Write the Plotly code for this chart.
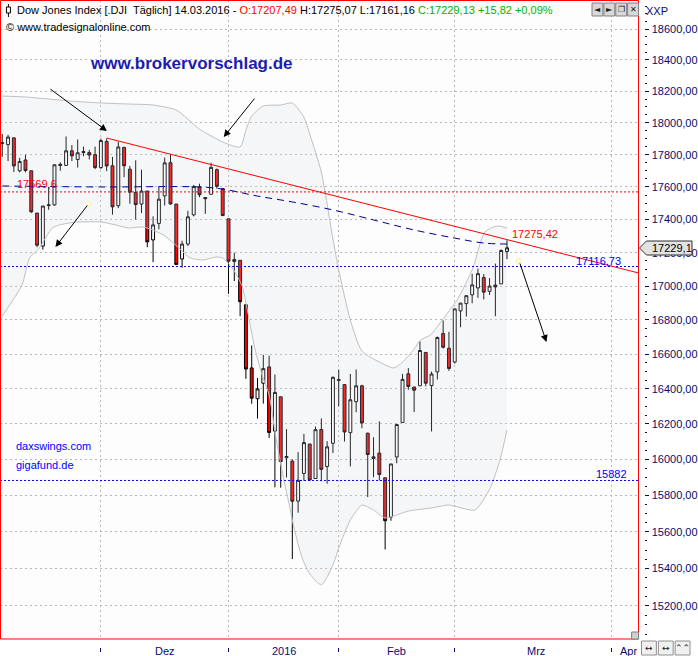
import math
import plotly.graph_objects as go

# ---------------- data ----------------
dates = ["2015-11-05", "2015-11-06", "2015-11-09", "2015-11-10", "2015-11-11", "2015-11-12", "2015-11-13",
         "2015-11-16", "2015-11-17", "2015-11-18", "2015-11-19", "2015-11-20", "2015-11-23", "2015-11-24",
         "2015-11-25", "2015-11-27", "2015-11-30",
         "2015-12-01", "2015-12-02", "2015-12-03", "2015-12-04", "2015-12-07", "2015-12-08", "2015-12-09",
         "2015-12-10", "2015-12-11", "2015-12-14", "2015-12-15", "2015-12-16", "2015-12-17", "2015-12-18",
         "2015-12-21", "2015-12-22", "2015-12-23", "2015-12-24", "2015-12-28", "2015-12-29", "2015-12-30",
         "2015-12-31",
         "2016-01-04", "2016-01-05", "2016-01-06", "2016-01-07", "2016-01-08", "2016-01-11", "2016-01-12",
         "2016-01-13", "2016-01-14", "2016-01-15", "2016-01-19", "2016-01-20", "2016-01-21", "2016-01-22",
         "2016-01-25", "2016-01-26", "2016-01-27", "2016-01-28", "2016-01-29",
         "2016-02-01", "2016-02-02", "2016-02-03", "2016-02-04", "2016-02-05", "2016-02-08", "2016-02-09",
         "2016-02-10", "2016-02-11", "2016-02-12", "2016-02-16", "2016-02-17", "2016-02-18", "2016-02-19",
         "2016-02-22", "2016-02-23", "2016-02-24", "2016-02-25", "2016-02-26", "2016-02-29",
         "2016-03-01", "2016-03-02", "2016-03-03", "2016-03-04", "2016-03-07", "2016-03-08", "2016-03-09",
         "2016-03-10", "2016-03-11", "2016-03-14"]

opens = [17869, 17863, 17905, 17700, 17767, 17700, 17440, 17240, 17486, 17490, 17740, 17733, 17824, 17770,
         17820, 17813, 17800,
         17720, 17883, 17731, 17485, 17845, 17710, 17566, 17495, 17575, 17277, 17377, 17545, 17750, 17495,
         17162, 17252, 17429, 17600, 17535, 17555, 17707, 17590,
         17405, 17147, 17154, 16889, 16520, 16343, 16432, 16526, 16159, 16354, 16009, 15990, 15768, 15921,
         16086, 15893, 16168, 15960, 16090,
         16453, 16424, 16150, 16326, 16417, 16147, 16005, 16035, 15897, 15680, 16013, 16208, 16486, 16410,
         16417, 16610, 16418, 16497, 16720, 16634,
         16554, 16853, 16896, 16948, 16989, 17051, 16969, 17006, 17013, 17207.49]
highs = [17929, 17924, 17905, 17780, 17800, 17700, 17440, 17484, 17600, 17740, 17752, 17914, 17860, 17895,
         17850, 17830, 17850,
         17901, 17901, 17786, 17880, 17850, 17730, 17765, 17707, 17575, 17420, 17600, 17782, 17800, 17495,
         17272, 17454, 17613, 17620, 17536, 17750, 17714, 17590,
         17405, 17200, 17154, 16889, 16651, 16462, 16596, 16591, 16482, 16354, 16170, 16000, 16040, 16143,
         16086, 16185, 16231, 16102, 16470,
         16510, 16424, 16485, 16511, 16423, 16150, 16124, 16214, 15897, 15974, 16200, 16485, 16519, 16410,
         16674, 16611, 16499, 16702, 16797, 16730,
         16866, 16900, 16944, 17073, 17104, 17072, 17048, 17134, 17220, 17275.07]
lows = [17787, 17760, 17692, 17690, 17690, 17440, 17233, 17218, 17460, 17485, 17700, 17733, 17760, 17720,
        17790, 17770, 17710,
        17710, 17698, 17430, 17470, 17660, 17497, 17400, 17440, 17233, 17143, 17341, 17486, 17490, 17128,
        17110, 17240, 17420, 17537, 17435, 17555, 17588, 17421,
        16954, 17030, 16822, 16457, 16314, 16230, 16315, 16120, 15844, 15842, 15899, 15451, 15704, 15880,
        15880, 15893, 15878, 15864, 16035,
        16300, 16100, 15960, 16266, 16175, 15790, 15900, 15882, 15503, 15660, 15978, 16208, 16394, 16267,
        16417, 16414, 16157, 16453, 16632, 16503,
        16545, 16757, 16820, 16898, 16930, 16921, 16947, 16822, 17013, 17161.16]
closes = [17874, 17910, 17730, 17758, 17702, 17448, 17245, 17483, 17490, 17737, 17733, 17824, 17793, 17812,
          17813, 17798, 17720,
          17888, 17730, 17478, 17848, 17731, 17568, 17492, 17575, 17265, 17368, 17525, 17749, 17496, 17129,
          17252, 17417, 17603, 17552, 17528, 17721, 17604, 17425,
          17149, 17159, 16907, 16514, 16346, 16399, 16516, 16151, 16379, 15988, 16016, 15767, 15883, 16094,
          15885, 16167, 15944, 16070, 16466,
          16449, 16154, 16337, 16417, 16205, 16027, 16014, 15915, 15660, 15974, 16196, 16454, 16413, 16392,
          16621, 16432, 16485, 16697, 16640, 16517,
          16865, 16899, 16943, 17007, 17074, 16964, 17000, 16995, 17213, 17229.13]

# Bollinger bands (knots, bar index / price)
upper_x = [0, 4, 8, 12, 17, 22, 26, 30, 34, 38, 41, 42, 43, 45, 48, 50, 52, 53, 55, 57, 58, 60, 62,
           65.3, 67.5, 69, 70.9, 72.1, 73.8, 75.2, 76.9, 78.4, 80.2, 81.2, 82.4, 83.2, 84.6, 85.8, 87]
upper_v = [18169, 18163, 18150, 18137, 18125, 18118, 18112, 18080, 17960, 17879, 17848, 17954, 18042,
           18106, 18112, 18125, 18036, 17929, 17692, 17282, 17096, 16799, 16618,
           16549, 16520, 16554, 16624, 16682, 16711, 16770, 16847, 16917, 17036, 17114, 17258, 17325,
           17355, 17361, 17349]
lower_x = [0, 3.4, 4.7, 6.4, 8.6, 9.8, 12.7, 17.2, 19.6, 21.8, 24.3, 27.8, 29.5, 30.8, 32.4, 34.6,
           36.8, 38, 39.2, 40.2, 41.4, 42.6, 43.6, 44.8, 46, 47.1, 48.2, 49.4, 50.3, 51.7, 53, 55, 57,
           58, 60, 62, 64, 66, 70, 74, 77, 81.5, 84.1, 85.8, 87]
lower_v = [16823, 17006, 17168, 17228, 17349, 17367, 17385, 17385, 17367, 17349, 17355, 17307, 17258,
           17216, 17168, 17156, 17174, 17168, 17126, 17078, 16994, 16794, 16624, 16479, 16364, 16137,
           15940, 15757, 15620, 15457, 15371, 15312, 15419, 15511, 15664, 15746, 15719, 15675, 15713,
           15730, 15746, 15719, 15840, 15996, 16165]

# long moving average (dashed)
ma_x = [0, 17, 34, 38, 44, 50, 57, 64, 71, 78, 83, 87]
ma_v = [17606, 17600, 17600, 17587, 17544, 17508, 17459, 17398, 17337, 17288, 17258, 17252]

# trend line and horizontal levels
trend_x = [18, 109.7]
trend_v = [17904, 17078]
levels = [17569.6, 17116.73, 15882]
level_colors = ["#ff0000", "#0000ff", "#0000ff"]

# axis ticks
y_ticks = list(range(15200, 18601, 200))
y_tick_text = [f"{v:.2f}".replace(".", ",") for v in y_ticks]
y_minor = [v for v in range(15050, 18800, 50) if v % 200 != 0]
month_starts = [17, 39, 58, 78, 105]
month_labels = ["Dez", "2016", "Feb", "Mrz", "Apr"]
month_label_pos = [28, 48.5, 68, 92, 108]

# ---------------- layout helpers ----------------
W, H = 698, 656
PLOT_R, PLOT_B = 645, 639
X_RANGE = [-0.39, 109.68]
NAVY = "#0a0a6a"
FONT = "Liberation Sans"
GRID = "#b8b8b8"


def px(x):
    return x / W


def py(y):
    return 1 - y / H


xi = list(range(len(dates)))

fig = go.Figure()

fig.add_trace(go.Scatter(x=upper_x, y=upper_v, mode="lines",
                         line=dict(color="#c0c0c0", width=1, shape="spline", smoothing=0.6),
                         hoverinfo="skip"))
fig.add_trace(go.Scatter(x=lower_x, y=lower_v, mode="lines", fill="tonexty",
                         fillcolor="rgba(215,215,235,0.18)",
                         line=dict(color="#c0c0c0", width=1, shape="spline", smoothing=0.6),
                         hoverinfo="skip"))
for lv, col in zip(levels, level_colors):
    fig.add_trace(go.Scatter(x=X_RANGE, y=[lv, lv], mode="lines",
                             line=dict(color=col, width=1, dash="2px,2px"), hoverinfo="skip"))
fig.add_trace(go.Scatter(x=ma_x, y=ma_v, mode="lines",
                         line=dict(color="#00008c", width=1, dash="7px,5px", shape="spline"),
                         hoverinfo="skip"))
fig.add_trace(go.Candlestick(
    x=xi, open=opens, high=highs, low=lows, close=closes, text=dates,
    increasing=dict(line=dict(color="black", width=1), fillcolor="white"),
    decreasing=dict(line=dict(color="black", width=1), fillcolor="#ff0000"),
    whiskerwidth=0))
fig.add_trace(go.Scatter(x=trend_x, y=trend_v, mode="lines",
                         line=dict(color="#ff0000", width=1), hoverinfo="skip"))

shapes = []
# plot frame
shapes.append(dict(type="rect", xref="paper", yref="paper", x0=px(0.5), x1=px(PLOT_R),
                   y0=py(PLOT_B), y1=py(0.5), line=dict(color="#ff0000", width=1), layer="above"))

# header candle icon
shapes.append(dict(type="line", xref="paper", yref="paper", x0=px(8.5), x1=px(8.5), y0=py(4), y1=py(17),
                   line=dict(color="black", width=1), layer="above"))
shapes.append(dict(type="rect", xref="paper", yref="paper", x0=px(6.5), x1=px(10.5), y0=py(13), y1=py(7),
                   line=dict(color="black", width=1), fillcolor="white", layer="above"))

# top right buttons
btn_glyph = ["◄", "►", "❐", "✕"]
btn_x = [598, 610, 622, 634]
for bx in btn_x:
    shapes.append(dict(type="rect", xref="paper", yref="paper", x0=px(bx), x1=px(bx + 11),
                       y0=py(16), y1=py(3), line=dict(color="#808080", width=1),
                       fillcolor="#d8d8d8", layer="above"))
# bottom right buttons
bb_x = [648, 665, 682]
bb_glyph = ["↔", "↔", "⌃⌃"]
for bx in bb_x:
    shapes.append(dict(type="rect", xref="paper", yref="paper", x0=px(bx), x1=px(bx + 15),
                       y0=py(655), y1=py(641), line=dict(color="#909090", width=1),
                       fillcolor="#f0f0f0", layer="above"))
# resize handle
shapes.append(dict(type="rect", xref="paper", yref="paper", x0=px(638), x1=px(645),
                   y0=py(639), y1=py(632), line=dict(color="#808080", width=1),
                   fillcolor="#d0d0d0", layer="above"))
# last price marker box
path = "M {} {} L {} {} L {} {} L {} {} L {} {} Z".format(
    px(646), py(248), px(653), py(241), px(699), py(241), px(699), py(255), px(653), py(255))
shapes.append(dict(type="path", xref="paper", yref="paper", path=path,
                   line=dict(color="#303030", width=1), fillcolor="#e2e2e2", layer="above"))
# pale handle dots at arrow tails
for (hx, hy) in [(89, 204), (524, 261)]:
    shapes.append(dict(type="circle", xref="paper", yref="paper", x0=px(hx - 2.5), x1=px(hx + 2.5),
                       y0=py(hy + 2.5), y1=py(hy - 2.5), line=dict(color="#f4f0c0", width=1),
                       fillcolor="#ffffd0", layer="above"))

ann = []


def text(x, y, s, color="black", size=11, anchor="left", bold=False, fam=FONT):
    ann.append(dict(xref="paper", yref="paper", x=px(x), y=py(y), text=f"<b>{s}</b>" if bold else s,
                    showarrow=False, xanchor=anchor, yanchor="middle",
                    font=dict(family=fam, size=size, color=color)))


text(15, 10, "Dow Jones Index [.DJI  Täglich] 14.03.2016 - "
     "<span style='color:#ff0000'>O:17207,49</span> H:17275,07 L:17161,16 "
     "<span style='color:#00b400'>C:17229,13 +15,82 +0,09%</span>")
text(4, 27, "© www.tradesignalonline.com")
text(89, 64, "www.brokervorschlag.de", color="#1c1cb0", size=17, bold=True)
text(14, 446, "daxswings.com", color="#0000ff", size=11)
text(14, 465, "gigafund.de", color="#0000ff", size=11)
text(15, 184, "17569,6", color="#ff0000", size=11)
text(515, 234, "17275,42", color="#ff0000", size=11)
text(580, 261, "17116,73", color="#0000ff", size=11)
text(600, 474, "15882", color="#0000ff", size=11)
text(651, 11, "XXP", color=NAVY, size=11)
text(657, 248, "17229,1", color="black", size=11)
for bx, g in zip(btn_x, btn_glyph):
    text(bx + 5.5, 9.5, g, color="#202020", size=8, anchor="center", fam="DejaVu Sans")
for bx, g in zip(bb_x, bb_glyph):
    text(bx + 7.5, 648, g, color="#202020", size=9, anchor="center", fam="DejaVu Sans")

for lab, pos in zip(month_labels, month_label_pos):
    ann.append(dict(xref="x", yref="paper", x=pos, y=py(651), text=lab, showarrow=False,
                    xanchor="center", yanchor="middle", font=dict(family=FONT, size=11, color=NAVY)))

# arrows: head (hx, hy), tail (tx, ty) in pixels
arrows = [((108, 131), (50, 88)), ((226, 137), (258, 97)), ((56, 247), (89, 204)), ((552, 342), (525, 262))]
for (hx, hy), (tx, ty) in arrows:
    ann.append(dict(xref="paper", yref="paper", x=px(hx), y=py(hy), ax=tx - hx, ay=ty - hy, text="",
                    showarrow=True, arrowhead=2, arrowsize=1.4, arrowwidth=1, arrowcolor="black",
                    standoff=0))

fig.update_layout(
    width=W, height=H, margin=dict(l=0, r=0, t=0, b=0),
    paper_bgcolor="white", plot_bgcolor="#fcfdfc", showlegend=False,
    font=dict(family=FONT, size=11, color=NAVY),
    shapes=shapes, annotations=ann, boxgap=0.28,
    xaxis=dict(domain=[0, px(PLOT_R)], range=X_RANGE, anchor="free", position=py(647),
               tickmode="array", tickvals=month_starts, showticklabels=False, ticks="outside",
               ticklen=4, tickcolor=NAVY, showgrid=True, gridcolor=GRID, griddash="2px,3px",
               gridwidth=1, zeroline=False, showline=False, rangeslider=dict(visible=False),
               fixedrange=True),
    yaxis=dict(type="log", domain=[py(PLOT_B), 1],
               range=[math.log10(15025), math.log10(18790)], side="right", anchor="free",
               position=px(651), tickmode="array", tickvals=y_ticks, ticktext=y_tick_text,
               ticks="outside", ticklen=4, tickcolor=NAVY, tickfont=dict(family=FONT, size=11, color=NAVY),
               showgrid=True, gridcolor=GRID, griddash="2px,3px", gridwidth=1,
               minor=dict(tickmode="array", tickvals=y_minor, ticks="outside", ticklen=2,
                          tickcolor=NAVY, showgrid=False),
               zeroline=False, showline=False, fixedrange=True),
)

fig.write_html("out.html", config={"displayModeBar": False, "staticPlot": True},
               post_script="document.body.style.margin='0';document.body.style.padding='0';"
                           "document.body.style.overflow='hidden';")
